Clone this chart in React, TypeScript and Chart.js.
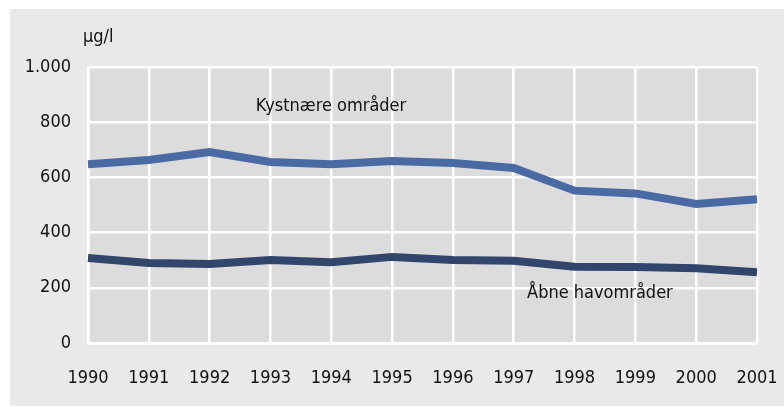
import React, { useEffect, useRef } from "react";
import { Chart, registerables } from "chart.js";

Chart.register(...registerables);

const years = ["1990", "1991", "1992", "1993", "1994", "1995", "1996", "1997", "1998", "1999", "2000", "2001"];
const kystnaere = [648, 663, 692, 656, 648, 659, 652, 634, 552, 542, 504, 521];
const aabne = [308, 290, 286, 301, 293, 312, 301, 298, 276, 275, 271, 256];
const yTickValues = [0, 200, 400, 600, 800, 1000];
const yTickLabels = ["0", "200", "400", "600", "800", "1.000"];
const unitLabel = "µg/l";
const seriesNames = ["Kystnære områder", "Åbne havområder"];

const FONT = "'DejaVu Sans Condensed', 'Open Sans', sans-serif";

export default function App() {
  const ref = useRef<HTMLCanvasElement | null>(null);
  useEffect(() => {
    document.body.style.margin = "0";
    const canvas = ref.current!;
    const bgPlugin = {
      id: "bg",
      beforeDraw(chart: any) {
        const { ctx, chartArea } = chart;
        ctx.save();
        ctx.fillStyle = "#ffffff";
        ctx.fillRect(0, 0, chart.width, chart.height);
        ctx.fillStyle = "#e9e9e9";
        ctx.fillRect(10, 9, chart.width - 10, chart.height - 10);
        ctx.fillStyle = "#dcdcdc";
        ctx.fillRect(chartArea.left, chartArea.top, chartArea.right - chartArea.left, chartArea.bottom - chartArea.top);
        ctx.restore();
      },
      afterDatasetsDraw(chart: any) {
        const { ctx, chartArea, scales } = chart;
        const x = scales.x;
        const y = scales.y;
        ctx.save();
        ctx.fillStyle = "#111111";
        ctx.font = `18px ${FONT}`;
        ctx.textBaseline = "middle";
        ctx.textAlign = "left";
        ctx.fillText(unitLabel, chartArea.left - 5, chartArea.top - 30);
        ctx.fillText(seriesNames[0], x.getPixelForValue(2.76), y.getPixelForValue(859));
        ctx.fillText(seriesNames[1], x.getPixelForValue(7.22), y.getPixelForValue(181));
        ctx.restore();
      },
    };
    const chart = new Chart(canvas, {
      type: "line",
      data: {
        labels: years,
        datasets: [
          {
            label: seriesNames[0],
            data: kystnaere,
            borderColor: "#4a6aa4",
            borderWidth: 8,
            pointRadius: 0,
            tension: 0,
            borderJoinStyle: "miter",
          },
          {
            label: seriesNames[1],
            data: aabne,
            borderColor: "#32466b",
            borderWidth: 8,
            pointRadius: 0,
            tension: 0,
            borderJoinStyle: "miter",
          },
        ],
      },
      options: {
        animation: false,
        responsive: false,
        devicePixelRatio: 1,
        layout: { padding: { left: 0, right: 27, top: 67, bottom: 0 } },
        plugins: { legend: { display: false }, tooltip: { enabled: false } },
        scales: {
          x: {
            offset: false,
            grid: { color: "#ffffff", lineWidth: 2.5, drawTicks: false },
            border: { color: "#ffffff", width: 2.5 },
            ticks: {
              color: "#111111",
              font: { family: FONT, size: 18 },
              padding: 25,
              maxRotation: 0,
              autoSkip: false,
            },
            afterFit(s: any) {
              s.height = 64;
              s.paddingLeft = 0;
              s.paddingRight = 0;
            },
          },
          y: {
            min: 0,
            max: 1000,
            afterBuildTicks(s: any) {
              s.ticks = yTickValues.map((v) => ({ value: v }));
            },
            grid: { color: "#ffffff", lineWidth: 2.5, drawTicks: false },
            border: { color: "#ffffff", width: 2.5 },
            ticks: {
              color: "#111111",
              font: { family: FONT, size: 18 },
              padding: 17,
              callback: (v: any) => {
                const i = yTickValues.indexOf(Number(v));
                return i >= 0 ? yTickLabels[i] : "";
              },
            },
            afterFit(s: any) {
              s.width = 88;
              s.paddingTop = 0;
              s.paddingBottom = 0;
            },
          },
        },
      },
      plugins: [bgPlugin],
    } as any);
    return () => chart.destroy();
  }, []);
  return <canvas ref={ref} width={784} height={407} style={{ display: "block" }} />;
}
